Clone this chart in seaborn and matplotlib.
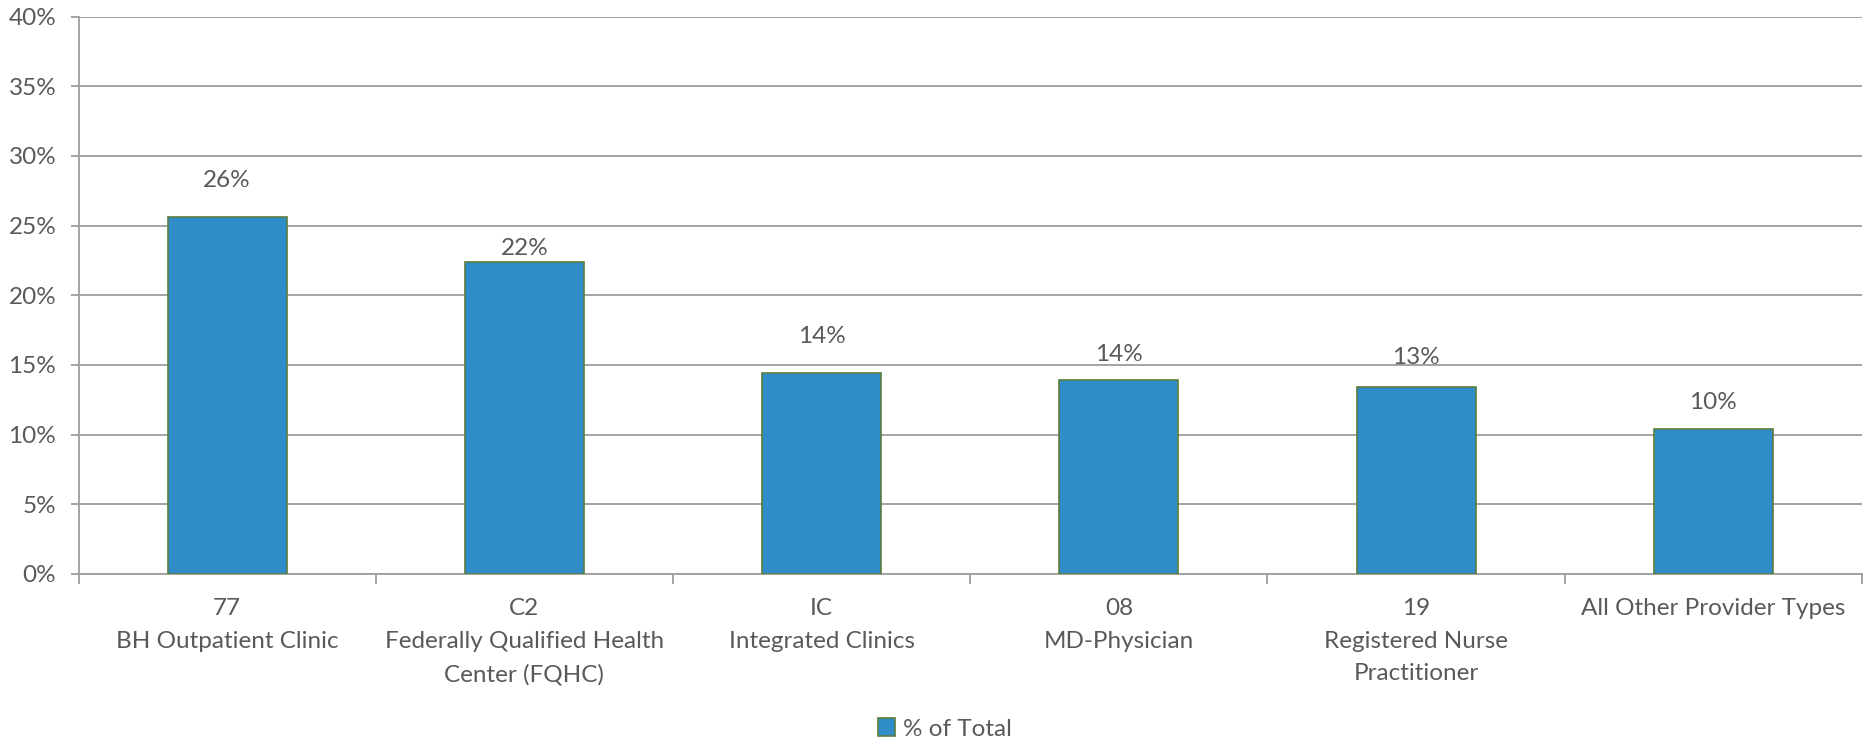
import matplotlib
matplotlib.use("Agg")
import matplotlib.pyplot as plt
from matplotlib.patches import Patch
from matplotlib.ticker import FixedLocator, PercentFormatter
import pandas as pd
import seaborn as sns

# Share of total by provider type
codes = ["77", "C2", "IC", "08", "19", ""]
provider_types = [
    "BH Outpatient Clinic",
    "Federally Qualified Health\nCenter (FQHC)",
    "Integrated Clinics",
    "MD-Physician",
    "Registered Nurse\nPractitioner",
    "All Other Provider Types",
]
pct_of_total = [25.6, 22.4, 14.4, 13.9, 13.4, 10.4]
series_name = "% of Total"
y_ticks = [0, 5, 10, 15, 20, 25, 30, 35, 40]

categories = [f"{c}\n{p}" if c else p for c, p in zip(codes, provider_types)]
df = pd.DataFrame({"category": categories, "pct": pct_of_total})

# styling
BAR_FILL = "#318CCA"
BAR_EDGE = "#5A7D3C"
GRID = "#A3A3A3"
TEXT = "#595959"
label_lift_px = [37, 13, 37, 26, 30, 27]

sns.set_style("white")
plt.rcParams["font.family"] = ["Lato", "DejaVu Sans"]
FS = 17.5

fig = plt.figure(figsize=(18.64, 7.43), dpi=100)
ax = fig.add_axes([78.5 / 1864, 1 - 574 / 743, (1862 - 78.5) / 1864, (574 - 16.6) / 743])

sns.barplot(data=df, x="category", y="pct", color=BAR_FILL, width=0.4,
            edgecolor=BAR_EDGE, linewidth=1.2, saturation=1, ax=ax, zorder=3)

ax.set_ylim(0, 40)
ax.set_xlim(-0.5, len(categories) - 0.5)
ax.yaxis.set_major_locator(FixedLocator(y_ticks))
ax.yaxis.set_major_formatter(PercentFormatter(decimals=0))
ax.grid(axis="y", color=GRID, linewidth=1.4, zorder=0)
ax.set_axisbelow(True)

for side in ["top", "right"]:
    ax.spines[side].set_visible(False)
for side in ["left", "bottom"]:
    ax.spines[side].set_color(GRID)
    ax.spines[side].set_linewidth(1.4)

ax.set_xlabel("")
ax.set_ylabel("")
ax.tick_params(axis="y", which="major", length=6, width=1.4, color=GRID,
               labelsize=FS, labelcolor=TEXT, pad=10, left=True)
ax.tick_params(axis="x", which="major", length=0, labelsize=FS, labelcolor=TEXT, pad=17)
for lbl in ax.get_xticklabels():
    lbl.set_linespacing(1.7)
    lbl.set_va("top")

# tick marks between categories
ax.xaxis.set_minor_locator(FixedLocator([i - 0.5 for i in range(len(categories) + 1)]))
ax.tick_params(axis="x", which="minor", length=7, width=1.4, color=GRID, bottom=True)

# value labels
for i, (v, lift) in enumerate(zip(pct_of_total, label_lift_px)):
    ax.annotate(f"{round(v):.0f}%", xy=(i, v), xytext=(0, lift),
                textcoords="offset pixels", ha="center", va="center",
                fontsize=FS, color=TEXT)

handle = Patch(facecolor=BAR_FILL, edgecolor=BAR_EDGE, linewidth=1.2)
fig.legend([handle], [series_name], loc="center",
           bbox_to_anchor=(945 / 1864, 1 - 729 / 743), frameon=False,
           fontsize=FS, labelcolor=TEXT, handlelength=0.7, handleheight=0.7,
           handletextpad=0.3)

fig.savefig("out.png", dpi=100, facecolor="white")
